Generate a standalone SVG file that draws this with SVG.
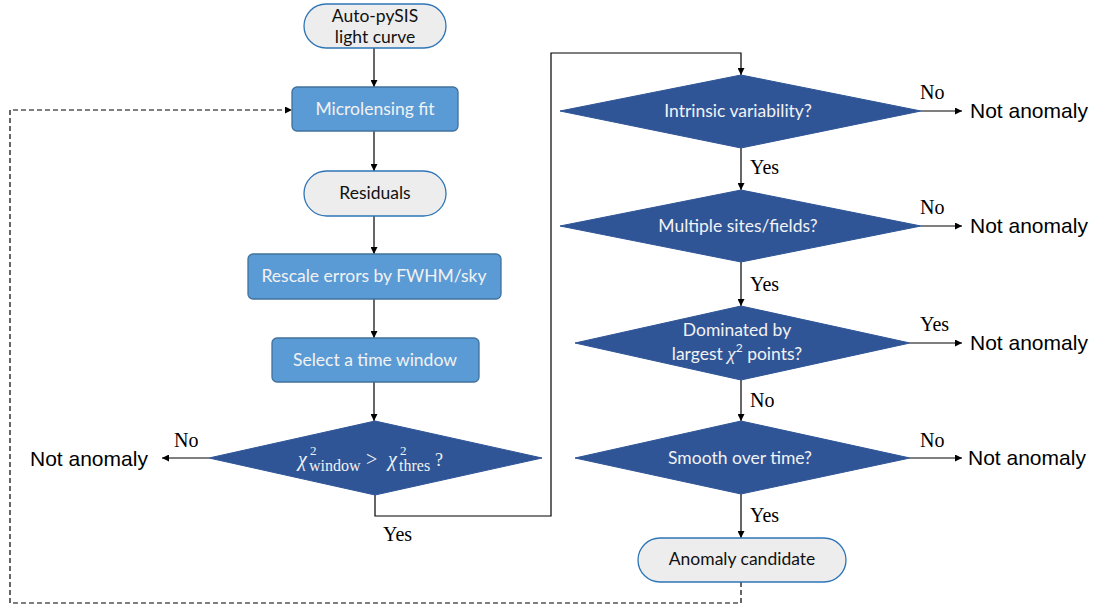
<svg xmlns="http://www.w3.org/2000/svg" width="1098" height="609" viewBox="0 0 1098 609">
<defs>
<marker id="ah" viewBox="0 0 10 10" refX="10" refY="5" markerWidth="7" markerHeight="7" markerUnits="userSpaceOnUse" orient="auto">
<path d="M0,0 L10,5 L0,10 z" fill="#000"/>
</marker>
<style>
.pill{fill:#EDEDED;stroke:#2E75B6;stroke-width:1.3}
.box{fill:#5B9BD5;stroke:#41719C;stroke-width:1.3}
.dia{fill:#2F5597;stroke:#2F5597;stroke-width:1}
.tb{font-family:Lato,"Open Sans",sans-serif;font-size:17.5px;fill:#111;text-anchor:middle}
.tw{font-family:Lato,"Open Sans",sans-serif;font-size:17.5px;fill:#F2F2F2;text-anchor:middle}
.lab{font-family:"Liberation Serif",serif;font-size:20px;fill:#000}
.na{font-family:"Liberation Sans",Arial,sans-serif;font-size:21px;fill:#000}
.m{font-family:"Liberation Serif",serif;fill:#F2F2F2}
.c{fill:none;stroke:#000;stroke-width:1.2}
.d{fill:none;stroke:#000;stroke-width:1.2;stroke-dasharray:5,3}
</style>
</defs>
<rect width="1098" height="609" fill="#fff"/>

<g id="connectors">
<line class="c" x1="374" y1="48" x2="374" y2="87" marker-end="url(#ah)"/>
<line class="c" x1="374" y1="131" x2="374" y2="171" marker-end="url(#ah)"/>
<line class="c" x1="374" y1="216" x2="374" y2="254" marker-end="url(#ah)"/>
<line class="c" x1="374" y1="299" x2="374" y2="338" marker-end="url(#ah)"/>
<line class="c" x1="374" y1="382" x2="374" y2="421" marker-end="url(#ah)"/>
<line class="c" x1="209" y1="458" x2="162" y2="458" marker-end="url(#ah)"/>
<polyline class="c" points="375,495 375,516 551,516 551,53 741,53 741,75" marker-end="url(#ah)"/>
<line class="c" x1="921" y1="111" x2="962" y2="111" marker-end="url(#ah)"/>
<line class="c" x1="741" y1="148" x2="741" y2="190" marker-end="url(#ah)"/>
<line class="c" x1="921" y1="226" x2="962" y2="226" marker-end="url(#ah)"/>
<line class="c" x1="741" y1="262" x2="741" y2="306" marker-end="url(#ah)"/>
<line class="c" x1="910" y1="343" x2="962" y2="343" marker-end="url(#ah)"/>
<line class="c" x1="741" y1="380" x2="741" y2="421" marker-end="url(#ah)"/>
<line class="c" x1="910" y1="458" x2="962" y2="458" marker-end="url(#ah)"/>
<line class="c" x1="741" y1="494" x2="741" y2="538" marker-end="url(#ah)"/>
<polyline class="d" points="741,582 741,603 10,603 10,110 292,110" marker-end="url(#ah)"/>
<text class="lab" x="174" y="447">No</text>
<text class="lab" x="383" y="541">Yes</text>
<text class="lab" x="920" y="99">No</text>
<text class="lab" x="750" y="174">Yes</text>
<text class="lab" x="920" y="214">No</text>
<text class="lab" x="750" y="291">Yes</text>
<text class="lab" x="920" y="331">Yes</text>
<text class="lab" x="750" y="407">No</text>
<text class="lab" x="920" y="447">No</text>
<text class="lab" x="750" y="522">Yes</text>
</g>

<g id="start">
<rect class="pill" x="304" y="4" width="142" height="44" rx="22"/>
<text class="tb" x="375" y="22">Auto-pySIS</text>
<text class="tb" x="375" y="43">light curve</text>
</g>
<g id="fit">
<rect class="box" x="292" y="87" width="166" height="44" rx="5"/>
<text class="tw" x="375" y="115">Microlensing fit</text>
</g>
<g id="residuals">
<rect class="pill" x="304" y="171" width="142" height="45" rx="22.5"/>
<text class="tb" x="375" y="199">Residuals</text>
</g>
<g id="rescale">
<rect class="box" x="248" y="254" width="253" height="45" rx="5"/>
<text class="tw" x="374" y="282">Rescale errors by FWHM/sky</text>
</g>
<g id="window">
<rect class="box" x="272" y="338" width="207" height="44" rx="5"/>
<text class="tw" x="375" y="366">Select a time window</text>
</g>
<g id="chi2test">
<polygon class="dia" points="375,421 542,458 375,495 209,458"/>
<text class="m" x="298" y="466" font-size="20" font-style="italic">χ</text>
<text class="m" x="310" y="455" font-size="13">2</text>
<text class="m" x="309" y="471" font-size="16">window</text>
<text class="m" x="366" y="466" font-size="20">&gt;</text>
<text class="m" x="388" y="466" font-size="20" font-style="italic">χ</text>
<text class="m" x="400" y="455" font-size="13">2</text>
<text class="m" x="399" y="471" font-size="16">thres</text>
<text class="m" x="435" y="466" font-size="18">?</text>
</g>
<g id="na1"><text class="na" x="30" y="466">Not anomaly</text></g>

<g id="intrinsic">
<polygon class="dia" points="741,75 921,111 741,148 560,111"/>
<text class="tw" x="738" y="117">Intrinsic variability?</text>
</g>
<g id="na2"><text class="na" x="970" y="118">Not anomaly</text></g>
<g id="multisite">
<polygon class="dia" points="741,190 921,226 741,262 560,226"/>
<text class="tw" x="738" y="232">Multiple sites/fields?</text>
</g>
<g id="na3"><text class="na" x="970" y="233">Not anomaly</text></g>
<g id="dominated">
<polygon class="dia" points="741,306 910,343 741,380 575,343"/>
<text class="tw" x="737" y="336">Dominated by</text>
<text class="tw" x="737" y="360">largest <tspan font-family="Liberation Serif,serif" font-style="italic" font-size="19">χ</tspan><tspan font-size="12" dy="-8">2</tspan><tspan dy="8"> points?</tspan></text>
</g>
<g id="na4"><text class="na" x="970" y="350">Not anomaly</text></g>
<g id="smooth">
<polygon class="dia" points="741,421 910,458 741,494 575,458"/>
<text class="tw" x="740" y="464">Smooth over time?</text>
</g>
<g id="na5"><text class="na" x="968" y="465">Not anomaly</text></g>
<g id="candidate">
<rect class="pill" x="638" y="538" width="208" height="44" rx="22"/>
<text class="tb" x="742" y="565">Anomaly candidate</text>
</g>
</svg>
